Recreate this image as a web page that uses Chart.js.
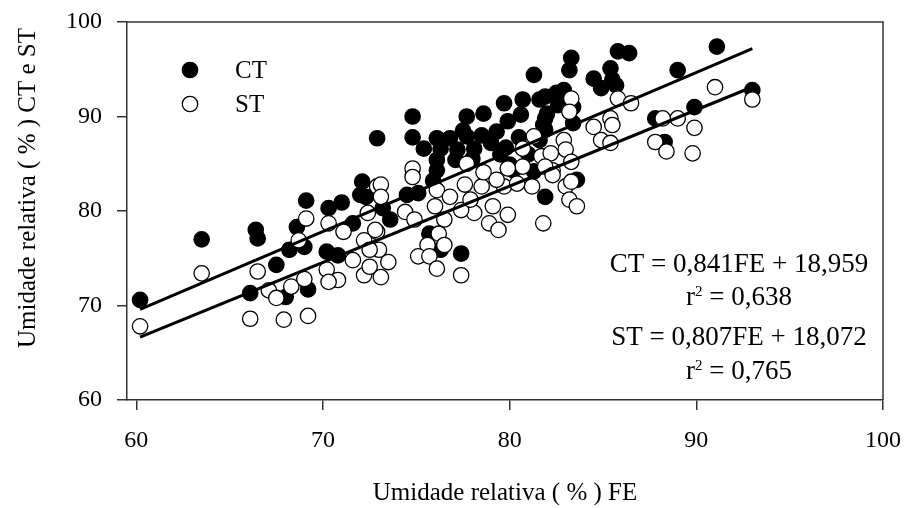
<!DOCTYPE html>
<html>
<head>
<meta charset="utf-8">
<script src="https://cdn.jsdelivr.net/npm/chart.js@4.4.1/dist/chart.umd.min.js"></script>
<style>
  body { margin: 0; background: #fff; }
  canvas { display: block; }
</style>
</head>
<body>
<canvas id="chart" width="905" height="508"></canvas>
<script>
const xTicks = [60, 70, 80, 90, 100];
const yTicks = [60, 70, 80, 90, 100];

// CT (filled dots)
const ctX = [60.2, 63.5, 66.4, 66.5, 67.5, 66.1, 68.0, 69.2, 69.1, 68.6, 68.2, 69.0, 70.3, 71.0, 70.2, 70.8, 72.1, 72.9, 72.0, 71.6,
  72.3, 73.2, 73.6, 74.5, 75.1, 74.8, 74.8, 75.4, 76.1, 76.3, 76.1, 76.1, 76.8, 77.2, 77.1, 77.7, 77.7, 78.1, 78.5, 78.6,
  79.0, 79.3, 79.7, 79.9, 80.6, 80.7, 81.6, 81.9, 81.3, 80.2, 81.3, 80.0, 81.9, 75.7, 76.3, 77.4, 82.5, 81.9, 82.9, 82.6,
  82.0, 83.4, 81.8, 83.4, 83.2, 83.3, 84.5, 84.9, 85.4, 85.5, 85.7, 85.8, 86.4, 83.6, 87.8, 88.3, 89.0, 89.9, 91.1, 93.0,
  75.9, 77.5, 78.0, 79.5, 80.5, 81.0, 79.8, 81.6, 81.9];
const ctY = [70.6, 77.0, 78.0, 77.1, 74.3, 71.3, 70.9, 71.7, 81.1, 78.3, 75.9, 76.2, 80.3, 80.9, 75.7, 75.3, 83.1, 87.7, 81.7, 78.7,
  81.5, 80.3, 79.1, 81.7, 81.9, 90.0, 87.8, 86.6, 87.7, 86.6, 85.4, 84.3, 87.7, 86.5, 85.4, 90.0, 87.9, 86.6, 88.0, 90.3,
  87.2, 88.4, 91.4, 89.5, 90.2, 91.8, 91.8, 89.8, 94.4, 84.3, 84.2, 84.9, 81.5, 77.6, 75.9, 75.5, 92.5, 92.1, 92.8, 91.2,
  90.3, 91.0, 89.1, 89.3, 94.9, 96.2, 94.0, 93.0, 95.1, 93.9, 93.3, 96.9, 96.7, 83.3, 89.8, 87.3, 94.9, 91.0, 97.4, 92.8,
  83.2, 88.5, 85.5, 86.0, 87.8, 86.0, 86.7, 87.5, 88.6];

// ST (open dots)
const stX = [60.2, 63.5, 66.5, 66.1, 67.9, 69.2, 67.1, 67.5, 68.3, 69.0, 69.1, 68.7, 70.3, 71.1, 71.6, 70.2, 70.8, 70.3, 72.2, 72.5,
  72.2, 72.9, 72.9, 73.0, 73.1, 74.8, 74.8, 73.1, 73.1, 72.4, 74.4, 74.9, 76.0, 76.1, 76.8, 77.6, 78.5, 79.7, 79.1, 78.1,
  78.9, 79.4, 79.9, 77.4, 76.5, 76.2, 76.5, 75.6, 75.1, 75.7, 76.1, 77.4, 73.5, 72.5, 81.8, 80.7, 79.9, 81.7, 82.3, 81.2,
  81.3, 80.7, 77.7, 72.8, 91.0, 89.8, 89.9, 89.0, 88.2, 87.8, 88.4, 85.8, 86.5, 85.4, 85.5, 84.5, 84.9, 85.4, 83.3, 83.2,
  82.9, 83.0, 82.2, 81.9, 82.3, 83.0, 83.3, 83.2, 83.6, 83.3, 93.0, 78.6, 79.3, 80.4, 77.9];
const stY = [67.8, 73.4, 73.6, 68.6, 68.5, 68.9, 71.6, 70.8, 72.0, 72.8, 79.2, 76.9, 78.7, 77.8, 74.8, 73.8, 72.7, 72.5, 73.2, 74.1,
  76.9, 82.6, 77.8, 75.9, 73.0, 84.5, 83.6, 82.8, 81.5, 79.8, 79.9, 79.1, 80.5, 82.2, 81.5, 82.8, 82.6, 82.6, 80.5, 79.8,
  78.7, 78.0, 79.6, 80.1, 79.1, 77.6, 76.4, 76.4, 75.2, 75.2, 73.9, 73.2, 74.6, 75.9, 78.7, 84.7, 84.5, 85.8, 84.3, 82.6,
  87.9, 86.6, 85.0, 78.0, 93.1, 86.1, 88.8, 89.8, 89.8, 87.3, 86.3, 91.9, 91.4, 89.8, 89.1, 88.9, 87.5, 87.2, 91.9, 90.5,
  87.5, 86.5, 86.1, 84.7, 83.8, 82.6, 83.1, 81.2, 80.5, 85.2, 91.8, 84.1, 83.3, 82.9, 81.2];

// regression lines printed on the figure
const fitRange = [60.2, 93];
const ctFit = [0.841, 18.959];
const stFit = [0.807, 18.072];
const equations = ["CT = 0,841FE + 18,959", "0,638", "ST = 0,807FE + 18,072", "0,765"];

const serif = '"Liberation Serif", "Times New Roman", serif';

function zip(xs, ys) {
  return xs.map((x, i) => ({ x: x, y: ys[i] }));
}
function fitPoints(fit) {
  return fitRange.map(x => ({ x: x, y: fit[0] * x + fit[1] }));
}
// no extra padding for tick label overhang, the box is fixed
function noPad(s) {
  s.paddingTop = 0; s.paddingBottom = 0; s.paddingLeft = 0; s.paddingRight = 0;
}

const decor = {
  id: 'decor',
  afterDraw(chart) {
    const { ctx, chartArea: a } = chart;
    ctx.save();
    // box top and right
    ctx.strokeStyle = '#333';
    ctx.lineWidth = 1.5;
    ctx.beginPath();
    ctx.moveTo(a.left, a.top);
    ctx.lineTo(a.right, a.top);
    ctx.lineTo(a.right, a.bottom);
    ctx.stroke();

    ctx.fillStyle = '#000';
    // y title
    ctx.save();
    ctx.translate(35, 188);
    ctx.rotate(-Math.PI / 2);
    ctx.font = '25px ' + serif;
    ctx.textAlign = 'center';
    ctx.textBaseline = 'alphabetic';
    ctx.fillText('Umidade relativa ( % ) CT e ST', 0, 0);
    ctx.restore();

    // legend
    ctx.lineWidth = 1.3;
    ctx.strokeStyle = '#000';
    ctx.beginPath();
    ctx.arc(190, 70, 7.7, 0, Math.PI * 2);
    ctx.fill();
    ctx.stroke();
    ctx.beginPath();
    ctx.arc(190, 104, 7.7, 0, Math.PI * 2);
    ctx.fillStyle = '#fff';
    ctx.fill();
    ctx.stroke();
    ctx.fillStyle = '#000';
    ctx.font = '25px ' + serif;
    ctx.textAlign = 'left';
    ctx.textBaseline = 'alphabetic';
    ctx.fillText('CT', 235, 78);
    ctx.fillText('ST', 235, 112);

    // equations
    const cx = 739;
    ctx.font = '27px ' + serif;
    ctx.textAlign = 'center';
    ctx.fillText(equations[0], cx, 271.5);
    ctx.fillText(equations[2], cx, 345);
    drawR2(ctx, equations[1], cx, 305);
    drawR2(ctx, equations[3], cx, 378.5);
    ctx.restore();
  }
};

function drawR2(ctx, value, cx, base) {
  ctx.textAlign = 'left';
  ctx.font = '27px ' + serif;
  const w1 = ctx.measureText('r').width;
  const w3 = ctx.measureText(' = ' + value).width;
  ctx.font = '15px ' + serif;
  const w2 = ctx.measureText('2').width;
  let x = cx - (w1 + w2 + w3) / 2;
  ctx.font = '27px ' + serif;
  ctx.fillText('r', x, base);
  ctx.font = '15px ' + serif;
  ctx.fillText('2', x + w1, base - 9);
  ctx.font = '27px ' + serif;
  ctx.fillText(' = ' + value, x + w1 + w2, base);
}

new Chart(document.getElementById('chart'), {
  type: 'scatter',
  data: {
    datasets: [
      { label: 'CT fit', data: fitPoints(ctFit), showLine: true, borderColor: '#000', borderWidth: 3, pointRadius: 0, order: 0 },
      { label: 'ST fit', data: fitPoints(stFit), showLine: true, borderColor: '#000', borderWidth: 3, pointRadius: 0, order: 0 },
      { label: 'ST', data: zip(stX, stY), backgroundColor: '#fff', borderColor: '#000', borderWidth: 1.3, pointRadius: 7.7, order: 1 },
      { label: 'CT', data: zip(ctX, ctY), backgroundColor: '#000', borderColor: '#000', borderWidth: 1.3, pointRadius: 7.7, order: 2 }
    ]
  },
  options: {
    responsive: false,
    animation: false,
    layout: { padding: { top: 22, right: 22, left: 0, bottom: 0 } },
    plugins: { legend: { display: false }, tooltip: { enabled: false } },
    scales: {
      x: {
        type: 'linear',
        min: 59.5,
        max: 100,
        afterBuildTicks: s => { s.ticks = xTicks.map(v => ({ value: v })); },
        afterFit: s => { s.height = 108; noPad(s); },
        border: { color: '#333', width: 1.5 },
        grid: { drawOnChartArea: false, tickLength: 10, color: '#333', lineWidth: 1.5 },
        ticks: { font: { family: serif, size: 24 }, color: '#000', padding: 16, maxRotation: 0 },
        title: { display: true, text: 'Umidade relativa ( % ) FE', font: { family: serif, size: 25 }, color: '#000', padding: { top: 0, bottom: 0 } }
      },
      y: {
        min: 60,
        max: 100,
        afterBuildTicks: s => { s.ticks = yTicks.map(v => ({ value: v })); },
        afterFit: s => { s.width = 127; noPad(s); },
        border: { color: '#333', width: 1.5 },
        grid: { drawOnChartArea: false, tickLength: 10, color: '#333', lineWidth: 1.5 },
        ticks: { font: { family: serif, size: 24 }, color: '#000', padding: 15 }
      }
    }
  },
  plugins: [decor]
});
</script>
</body>
</html>
